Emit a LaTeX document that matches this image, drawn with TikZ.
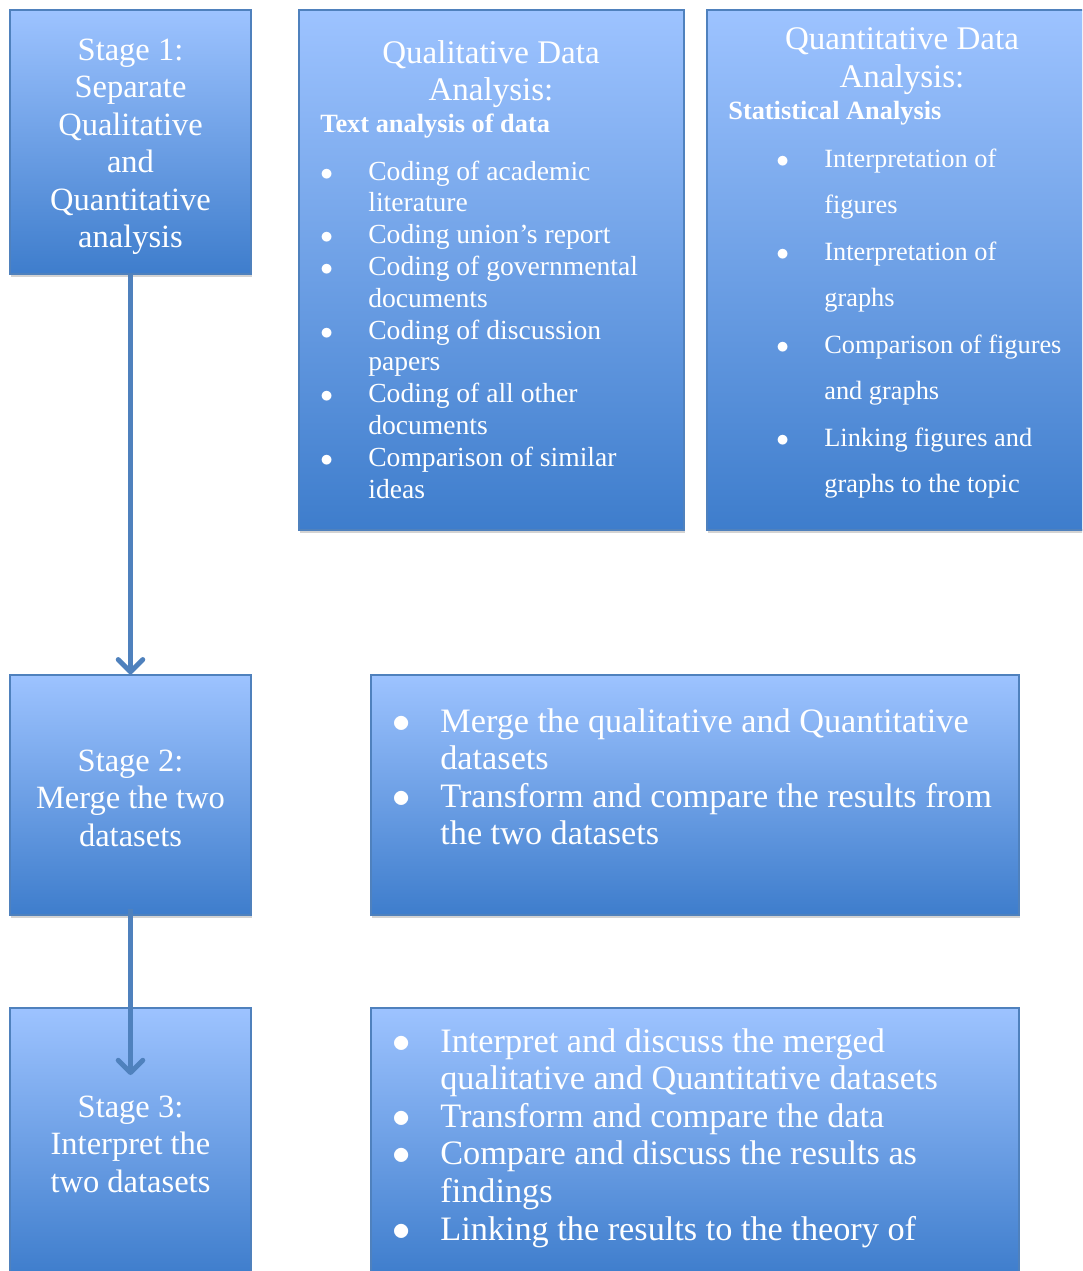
\documentclass[tikz,border=0pt]{standalone}
\usepackage{fontspec}
\setmainfont{Liberation Serif}
\usepackage{xcolor}
\usetikzlibrary{positioning,fit,shadows,arrows.meta,calc}

\definecolor{boxtop}{RGB}{157,195,255}
\definecolor{boxbot}{RGB}{62,125,204}
\definecolor{boxline}{RGB}{79,129,189}
\newcommand{\bul}{$\bullet$}

\begin{document}
\begin{tikzpicture}[x=0.02cm,y=-0.02cm,
        panel/.style={draw=boxline,line width=0.8pt,top color=boxtop,bottom color=boxbot,
          inner sep=0pt,drop shadow={shadow xshift=0.6pt,shadow yshift=-1.6pt,opacity=0.35}},
        stagetext/.style={text=white,inner sep=0pt,font=\fontsize{18.5}{21.4}\selectfont},
        titletext/.style={text=white,inner sep=0pt,anchor=base,font=\fontsize{18.8}{21.2}\selectfont},
        subtext/.style={text=white,inner sep=0pt,anchor=base west,font=\fontsize{15}{18}\selectfont\bfseries},
        qualitems/.style={text=white,inner sep=0pt,anchor=base west,font=\fontsize{15.7}{18.1}\selectfont},
        quantitems/.style={text=white,inner sep=0pt,anchor=base west,font=\fontsize{15}{26.5}\selectfont},
        bigitems/.style={text=white,inner sep=0pt,anchor=base west,font=\fontsize{19.5}{21.4}\selectfont},
        link/.style={draw=boxline,line width=2.8pt,-{Straight Barb[length=7pt,width=14pt,round]}}]
      \useasboundingbox (0,0) rectangle (1082,1271);
      \clip (0,0) rectangle (1082,1271);
      %% boxes
      \node[panel,fit={(10,10) (251,274)}] (s_1) {};
      \node[panel,fit={(299,10) (684,530)}] (qual) {};
      \node[panel,fit={(707,10) (1097,530)}] (quant) {};
      \node[panel,fit={(10,675) (251,915)}] (s_2) {};
      \node[panel,fit={(371,675) (1019,915)}] (merge) {};
      \node[panel,fit={(10,1008) (251,1276)}] (s_3) {};
      \node[panel,fit={(371,1008) (1019,1276)}] (interp) {};
      %% stage texts
      \node[stagetext,anchor=base] (t_1) at (130.5,60)
        {\begin{tabular}[t]{@{}c@{}}Stage 1:\\Separate\\Qualitative\\and\\Quantitative\\analysis\end{tabular}};
      \node[stagetext,anchor=base] (t_2) at (130.5,771)
        {\begin{tabular}[t]{@{}c@{}}Stage 2:\\Merge the two\\datasets\end{tabular}};
      \node[stagetext,anchor=base] (t_3) at (130.5,1117)
        {\begin{tabular}[t]{@{}c@{}}Stage 3:\\Interpret the\\two datasets\end{tabular}};
      %% qualitative panel
      \node[titletext] (qual_title) at (491,63)
        {\begin{tabular}[t]{@{}c@{}}Qualitative Data\\Analysis:\end{tabular}};
      \node[subtext] (qual_sub) at (320,132) {Text analysis of data};
      \node[qualitems] (qual_list) at (320,180)
        {\begin{tabular}[t]{@{}p{0.96cm}@{}p{6.2cm}@{}}
          \bul & Coding of academic\newline literature\\
          \bul & Coding union’s report\\
          \bul & Coding of governmental\newline documents\\
          \bul & Coding of discussion\newline papers\\
          \bul & Coding of all other\newline documents\\
          \bul & Comparison of similar\newline ideas
        \end{tabular}};
      %% quantitative panel
      \node[titletext] (quant_title) at (902,50)
        {\begin{tabular}[t]{@{}c@{}}Quantitative Data\\Analysis:\end{tabular}};
      \node[subtext] (quant_sub) at (728,119) {Statistical Analysis};
      \node[quantitems] (quant_list) at (776,167)
        {\begin{tabular}[t]{@{}p{0.96cm}@{}p{5.5cm}@{}}
          \bul & Interpretation of\newline figures\\
          \bul & Interpretation of\newline graphs\\
          \bul & Comparison of figures\newline and graphs\\
          \bul & Linking figures and\newline graphs to the topic
        \end{tabular}};
      %% stage 2 and 3 lists
      \node[bigitems] (merge_list) at (392,732)
        {\begin{tabular}[t]{@{}p{0.96cm}@{}p{12cm}@{}}
          \bul & Merge the qualitative and Quantitative\newline datasets\\
          \bul & Transform and compare the results from\newline the two datasets
        \end{tabular}};
      \node[bigitems] (interp_list) at (392,1052)
        {\begin{tabular}[t]{@{}p{0.96cm}@{}p{12cm}@{}}
          \bul & Interpret and discuss the merged\newline qualitative and Quantitative datasets\\
          \bul & Transform and compare the data\\
          \bul & Compare and discuss the results as\newline findings\\
          \bul & Linking the results to the theory of
        \end{tabular}};
      %% connectors
      \coordinate (s_3in) at (130.5,1075);
      \path[link] (s_1) -- (s_2);
      \path[link] ($(s_2.south)+(0,-7)$) -- (s_3in);
    \end{tikzpicture}
\end{document}
